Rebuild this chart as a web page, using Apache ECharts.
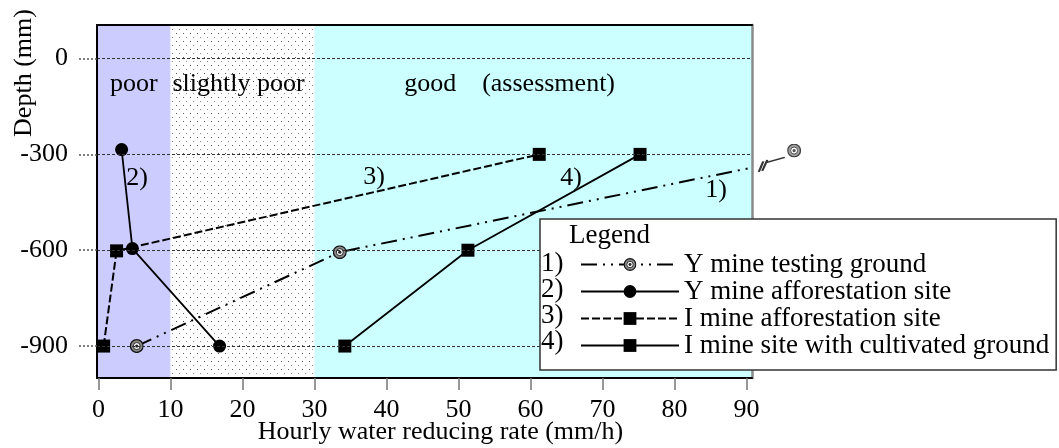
<!DOCTYPE html>
<html>
<head>
<meta charset="utf-8">
<script src="https://cdn.jsdelivr.net/npm/echarts@6/dist/echarts.min.js"></script>
<style>html,body{margin:0;padding:0;background:#fff}#c{width:1059px;height:448px}</style>
</head>
<body>
<div id="c"></div>
<script>
// ---------- data ----------
const xTicks = [0, 10, 20, 30, 40, 50, 60, 70, 80, 90];
const yTicks = [0, -300, -600, -900];
const bandEdges = [10, 30];                       // poor | slightly poor | good
const bandNames = ['poor', 'slightly poor', 'good    (assessment)'];
const seriesNames = ['Y mine testing ground', 'Y mine afforestation site', 'I mine afforestation site', 'I mine site with cultivated ground'];
const s1x = [5.3, 33.5, 99.7];   const s1y = [-900, -606, -300];   // last value beyond axis
const s2x = [16.8, 4.7, 3.2];    const s2y = [-900, -595, -285];
const s3x = [0.7, 2.5, 61.2];    const s3y = [-900, -602, -300];
const s4x = [34.2, 51.3, 75.2];  const s4y = [-900, -600, -300];
const offScalePoint = [96.6, -288];                // marker drawn outside the frame
const breakMark = [93.5, -332];                    // axis-break sign "//—"
const xMin = -0.22, xMax = 90.75, yMin = -1000, yMax = 105;

const FONT = '"Liberation Serif", "Times New Roman", serif';
const pair = (xs, ys) => xs.map((x, i) => [x, ys[i]]);

// double circle symbol
const svg = "<svg xmlns='http://www.w3.org/2000/svg' width='26' height='26' viewBox='0 0 26 26'>" +
  "<circle cx='13' cy='13' r='11.8' fill='#8a8a8a' stroke='#111' stroke-width='2.4'/>" +
  "<circle cx='13' cy='13' r='6.5' fill='#fff' stroke='#222' stroke-width='1.8'/>" +
  "<circle cx='13' cy='13' r='3' fill='#222'/></svg>";
const ringSymbol = 'image://data:image/svg+xml;utf8,' + encodeURIComponent(svg);

// dotted pattern
const pc = document.createElement('canvas');
pc.width = 7; pc.height = 8;
const pctx = pc.getContext('2d');
pctx.fillStyle = '#fff'; pctx.fillRect(0, 0, 7, 8);
pctx.fillStyle = '#555'; pctx.fillRect(1, 1, 1, 1);
pctx.fillStyle = '#888'; pctx.fillRect(4, 5, 1, 1);

const chart = echarts.init(document.getElementById('c'), null, {renderer: 'canvas'});
const txt = (t, x, y, extra) => Object.assign({
  type: 'text', x: x, y: y, z: 100,
  style: {text: t, font: '26px ' + FONT, fill: '#000', align: 'center', verticalAlign: 'middle'}
}, extra || {});

const legendRowY = [264, 290, 316, 342];

chart.setOption({
  animation: false,
  grid: {left: 97, right: 307, top: 25, bottom: 70, containLabel: false, outerBoundsMode: 'none'},
  xAxis: [{
    type: 'value', min: xMin, max: xMax, z: 10, position: 'bottom',
    name: 'Hourly water reducing rate (mm/h)', nameLocation: 'middle', nameGap: 41, nameMoveOverlap: false,
    nameTextStyle: {fontFamily: FONT, fontSize: 26, color: '#000', padding: [0, 0, 0, 32]},
    axisLine: {show: true, onZero: false, lineStyle: {color: '#000', width: 2}},
    axisTick: {show: true, customValues: xTicks, length: 12, lineStyle: {color: '#777', width: 1.5}},
    axisLabel: {customValues: xTicks, margin: 19, fontFamily: FONT, fontSize: 26, color: '#000'},
    splitLine: {show: false}
  }, {
    type: 'value', position: 'top', min: xMin, max: xMax, z: 10,
    axisLine: {show: true, onZero: false, lineStyle: {color: '#000', width: 2}},
    axisTick: {show: false}, axisLabel: {show: false}, splitLine: {show: false}
  }],
  yAxis: [{
    type: 'value', min: yMin, max: yMax, z: 10, position: 'left',
    axisLine: {show: true, onZero: false, lineStyle: {color: '#000', width: 2}},
    axisTick: {show: true, customValues: yTicks, length: 20, lineStyle: {color: '#555', width: 1.5, type: [2, 2]}},
    axisLabel: {customValues: yTicks, margin: 29, fontFamily: FONT, fontSize: 26, color: '#000'},
    splitLine: {show: false}
  }, {
    type: 'value', position: 'right', min: yMin, max: yMax, z: 10,
    axisLine: {show: true, onZero: false, lineStyle: {color: '#8a8a8a', width: 2.5}},
    axisTick: {show: false}, axisLabel: {show: false}, splitLine: {show: false}
  }],
  legend: {
    orient: 'vertical', left: 540, top: 219, padding: [32, 7, 11, 40],
    itemWidth: 98, itemHeight: 16, itemGap: 0, selectedMode: false,
    backgroundColor: '#fff', borderColor: '#333', borderWidth: 1.5, borderRadius: 0,
    textStyle: {fontFamily: FONT, fontSize: 27, color: '#000', lineHeight: 26},
    data: seriesNames, z: 20
  },
  series: [
    { // background bands
      name: 'bands', type: 'line', data: [], z: 0, silent: true,
      markArea: {
        silent: true,
        label: {fontFamily: FONT, fontSize: 26, color: '#000', align: 'center', verticalAlign: 'middle'},
        data: [
          [{xAxis: xMin, itemStyle: {color: '#ccccff'}, label: {position: ['50%', 59]}, name: bandNames[0]}, {xAxis: bandEdges[0]}],
          [{xAxis: bandEdges[0], itemStyle: {color: {image: pc, repeat: 'repeat'}}, label: {position: [68, 59]}, name: bandNames[1]}, {xAxis: bandEdges[1]}],
          [{xAxis: bandEdges[1], itemStyle: {color: '#ccffff'}, label: {position: [195, 59]}, name: bandNames[2]}, {xAxis: xMax}]
        ]
      }
    },
    { // grid lines
      name: 'grid', type: 'line', data: [], z: 1, silent: true,
      markLine: {
        silent: true, symbol: 'none', label: {show: false},
        lineStyle: {color: '#333', width: 1, type: [3, 2]},
        data: yTicks.map(v => ({yAxis: v}))
      }
    },
    {
      name: seriesNames[0], type: 'line', data: pair(s1x, s1y), z: 3,
      symbol: ringSymbol, symbolSize: 14, color: '#000',
      lineStyle: {color: '#000', width: 2, type: [16, 6, 2, 6, 2, 6]}
    },
    {
      name: seriesNames[1], type: 'line', data: pair(s2x, s2y), z: 3,
      symbol: 'circle', symbolSize: 13, color: '#000',
      itemStyle: {color: '#000'}, lineStyle: {color: '#000', width: 1.8, type: 'solid'}
    },
    {
      name: seriesNames[2], type: 'line', data: pair(s3x, s3y), z: 3,
      symbol: 'rect', symbolSize: 13, color: '#000',
      itemStyle: {color: '#000'}, lineStyle: {color: '#000', width: 2, type: [8, 3]}
    },
    {
      name: seriesNames[3], type: 'line', data: pair(s4x, s4y), z: 3,
      symbol: 'rect', symbolSize: 13, color: '#000',
      itemStyle: {color: '#000'}, lineStyle: {color: '#000', width: 1.8, type: 'solid'}
    },
    { // break sign with short continuation
      name: 'breakMark', type: 'scatter', data: [breakMark], clip: false, z: 3, silent: true,
      symbol: 'path://M2,17L6.5,6.5M5.5,16L10.5,5M10,7.5L28,2.5', symbolSize: [26, 14.5],
      itemStyle: {color: 'rgba(0,0,0,0)', borderColor: '#000', borderWidth: 1.7}
    },
    { // off-scale marker
      name: 'offScale', type: 'scatter', data: [offScalePoint], clip: false, z: 4, silent: true,
      symbol: ringSymbol, symbolSize: 14
    }
  ],
  graphic: [
    txt('Depth (mm)', 24, 73, {rotation: Math.PI / 2}),
    txt('2)', 137, 178), txt('3)', 374, 177), txt('4)', 571, 178), txt('1)', 716, 190),
    {type: 'text', x: 569, y: 236, z: 100, style: {text: 'Legend', font: '27px ' + FONT, fill: '#000', align: 'left', verticalAlign: 'middle'}},
    ...legendRowY.map((y, i) => ({type: 'text', x: 541, y: y, z: 100,
      style: {text: (i + 1) + ')', font: '27px ' + FONT, fill: '#000', align: 'left', verticalAlign: 'middle'}}))
  ]
});
</script>
</body>
</html>
